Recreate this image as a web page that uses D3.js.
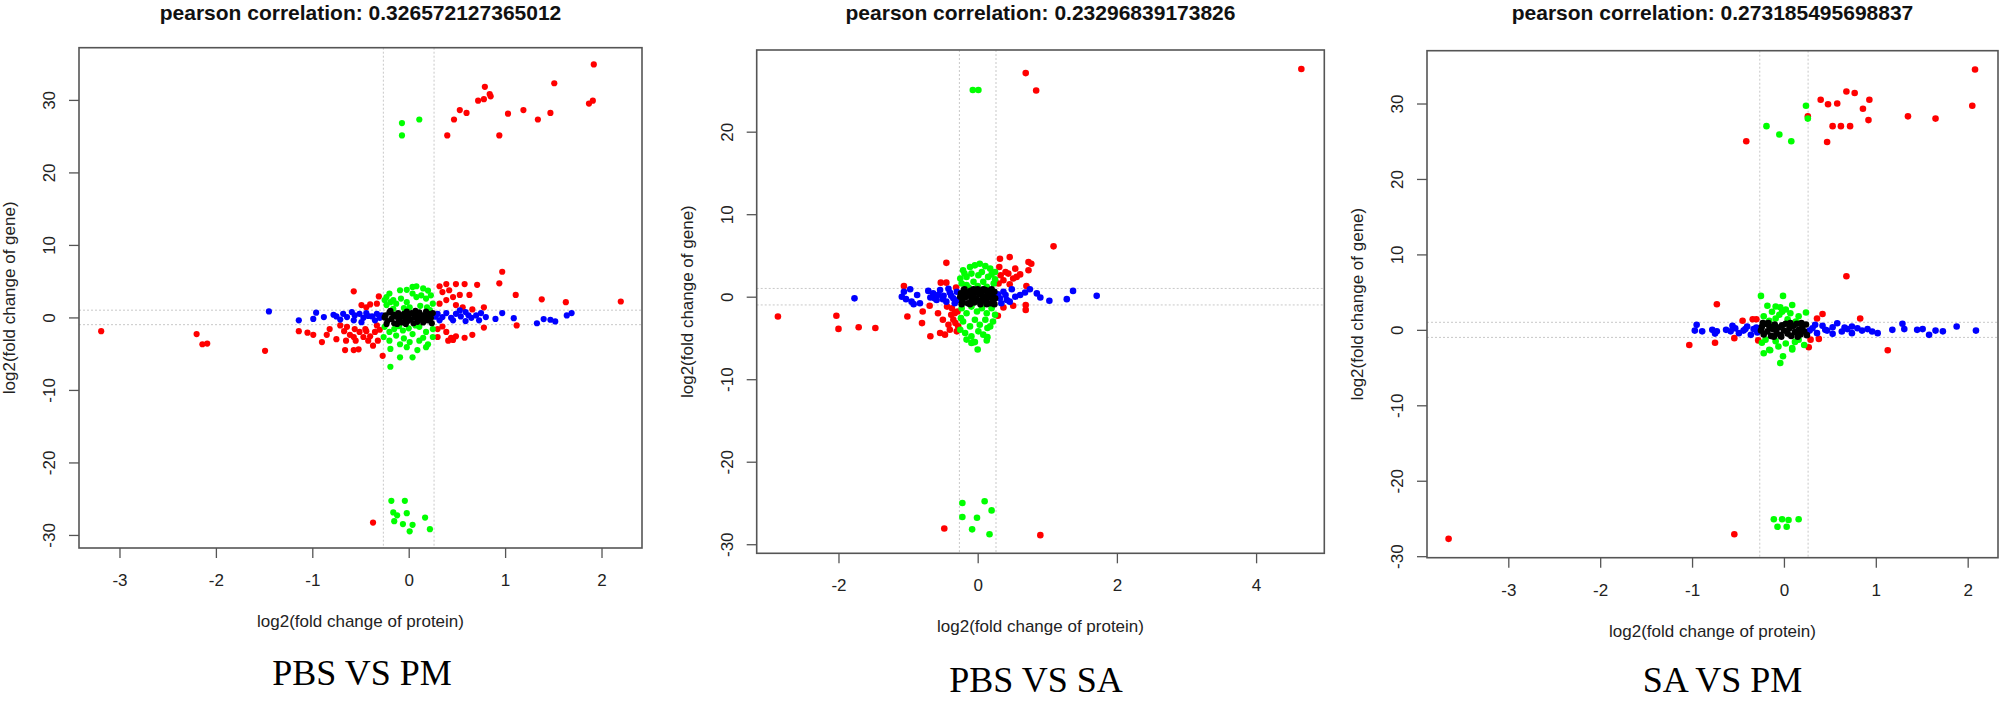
<!DOCTYPE html>
<html>
<head>
<meta charset="utf-8">
<script src="https://cdn.jsdelivr.net/npm/d3@7.9.0/dist/d3.min.js"></script>
<style>
  body { margin: 0; background: #fff; }
  svg { display: block; }
  .tick text { font-family: "Liberation Sans", Arial, sans-serif; font-size: 17px; fill: #222; }
  .tick line { stroke: #555; stroke-width: 1.3; }
</style>
</head>
<body>
<svg id="chart" width="2000" height="701"></svg>
<script>
// thresholds used for the dotted guide lines (log2 1.2 and log2 2)
const protCut = [-0.263, 0.263];
const geneCut = [-1, 1];

const titles = [
  'pearson correlation: 0.326572127365012',
  'pearson correlation: 0.23296839173826',
  'pearson correlation: 0.273185495698837'
];
const captions = ['PBS VS PM', 'PBS VS SA', 'SA VS PM'];

const xTicksPm = [-3, -2, -1, 0, 1, 2];
const xTicksSa = [-2, 0, 2, 4];
const yTicksPm = [-30, -20, -10, 0, 10, 20, 30];
const yTicksSa = [-30, -20, -10, 0, 10, 20];

// ---- PBS VS PM ----
const pbsPmRed = [
  [-3.19, -1.9], [-2.20, -2.3], [-2.14, -3.7], [-2.09, -3.6], [-1.49, -4.6],
  [-1.14, -1.9], [-1.05, -2.1], [-0.99, -2.4], [-0.90, -3.4], [-0.85, -2.4], [-0.82, -1.6],
  [-0.75, -3.0], [-0.71, -1.1], [-0.67, -1.9], [-0.65, -3.2], [-0.64, -1.3], [-0.61, -2.4],
  [-0.57, -2.7], [-0.56, -1.6], [-0.55, -3.2], [-0.66, -4.5], [-0.57, -4.5], [-0.52, -4.4],
  [-0.51, -2.0], [-0.47, -2.7], [-0.45, -1.6], [-0.44, -1.9], [-0.42, -3.2], [-0.40, -2.6],
  [-0.37, -3.9], [-0.35, -2.0], [-0.33, -1.1], [-0.32, -3.2], [-0.30, -1.7], [-0.27, -5.3],
  [-0.57, 3.6], [-0.49, 1.7], [-0.44, 1.4], [-0.40, 1.8], [-0.31, 2.9], [-0.33, 1.9],
  [0.32, 4.3], [0.39, 4.6], [0.49, 4.6], [0.58, 4.6], [0.71, 4.5], [0.35, 3.5], [0.42, 3.75],
  [0.46, 2.8], [0.53, 3.1], [0.63, 3.1], [0.78, 1.4], [0.39, 2.4], [0.32, 1.9], [0.49, 1.7],
  [0.56, 1.4], [0.66, 1.1], [0.94, 4.7], [0.97, 6.3], [1.11, 3.1], [1.38, 2.5], [1.63, 2.1],
  [2.20, 2.2],
  [0.30, -1.6], [0.35, -1.25], [0.39, -2.0], [0.44, -2.8], [0.49, -2.6], [0.58, -2.8],
  [0.66, -2.4], [0.78, -1.4], [1.12, -1.1], [0.30, -2.7], [0.41, -3.2], [0.46, -3.1],
  [0.40, 25.1], [0.47, 27.3], [0.53, 28.6], [0.60, 28.2], [0.72, 29.9], [0.78, 30.1],
  [0.79, 31.8], [0.84, 30.8], [0.85, 30.5], [0.94, 25.1], [1.03, 28.1], [1.19, 28.6],
  [1.34, 27.3], [1.47, 28.2], [1.51, 32.3], [1.87, 29.5], [1.91, 29.9], [1.92, 34.9],
  [-0.37, -28.3]
];
const pbsPmBlue = [
  [-1.45, 0.83], [-1.14, -0.4], [-0.99, -0.2], [-0.96, 0.65], [-0.88, 0.05], [-0.78, 0.37],
  [-0.75, 0.14], [-0.68, 0.5], [-0.64, 0.05], [-0.59, 0.74], [-0.56, 0.28], [-0.51, 0.5],
  [-0.47, -0.05], [-0.44, 0.6], [-0.38, 0.14], [-0.33, 0.5], [-0.30, -0.05], [-0.71, -0.3],
  [-0.57, -0.4], [-0.35, -0.4], [-0.49, -0.65], [-0.42, 0.2], [-0.28, 0.3],
  [0.30, 0.5], [0.35, 0.05], [0.39, 0.6], [0.44, -0.05], [0.49, 0.5], [0.54, 0.14],
  [0.59, 0.74], [0.65, -0.05], [0.70, 0.28], [0.75, 0.6], [0.80, 0.05], [0.90, -0.2],
  [0.97, 0.6], [1.09, -0.1], [1.33, -0.8], [1.40, -0.23], [1.47, -0.32], [1.52, -0.55],
  [1.64, 0.28], [1.69, 0.6], [0.32, -0.4], [0.46, -0.4], [0.59, -0.5], [0.73, -0.4],
  [0.53, 0.97], [0.28, 0.1], [0.62, 0.3]
];
const pbsPmGreen = [
  [-0.23, 2.8], [-0.16, 2.4], [-0.09, 3.75], [-0.02, 3.8], [0.04, 4.2], [0.08, 4.3],
  [0.15, 4.0], [0.20, 3.7], [-0.23, 1.7], [-0.13, 1.9], [-0.02, 2.1], [0.08, 2.8],
  [0.18, 2.6], [0.25, 1.9], [-0.20, 3.3], [0.04, 3.3], [0.13, 3.05], [0.01, 1.4],
  [-0.16, 1.2], [0.22, 1.0], [-0.08, 2.6], [-0.25, 2.4], [0.23, 3.05], [-0.05, 1.3],
  [0.12, 1.6], [-0.19, 2.1], [0.19, 1.4],
  [-0.25, -1.3], [-0.20, -2.0], [-0.13, -2.5], [-0.06, -1.8], [0.04, -2.3], [0.11, -1.3],
  [0.18, -2.0], [0.25, -2.7], [-0.20, -3.2], [-0.09, -3.7], [0.01, -3.4], [0.11, -3.2],
  [0.20, -3.7], [-0.19, -4.35], [-0.09, -5.5], [0.04, -5.5], [0.09, -4.5], [0.18, -4.1],
  [-0.19, -6.8], [-0.02, -4.1], [-0.26, -2.7], [0.25, -1.6], [-0.10, -1.2], [0.00, -1.5],
  [0.15, -2.8], [-0.15, -1.6], [-0.05, -2.9], [0.07, -1.1],
  [-0.07, 26.8], [-0.07, 25.1], [0.11, 27.3],
  [-0.18, -25.3], [-0.04, -25.3], [-0.16, -26.9], [-0.12, -27.3], [-0.15, -28.1],
  [-0.02, -27.0], [-0.06, -28.5], [0.04, -28.6], [0.01, -29.5], [0.17, -27.6], [0.22, -29.2]
];
const pbsPmBlack = [
  [-0.24, 0.3], [-0.22, -0.5], [-0.20, 0.7], [-0.18, -0.2], [-0.16, 0.4], [-0.15, -0.8],
  [-0.13, 0.1], [-0.11, 0.6], [-0.10, -0.4], [-0.08, 0.2], [-0.07, -0.7], [-0.05, 0.5],
  [-0.04, -0.1], [-0.02, 0.8], [-0.01, -0.5], [0.00, 0.2], [0.02, -0.3], [0.03, 0.6],
  [0.05, -0.8], [0.06, 0.0], [0.08, 0.4], [0.09, -0.6], [0.11, 0.7], [0.12, -0.2],
  [0.14, 0.3], [0.15, -0.7], [0.17, 0.1], [0.18, 0.8], [0.20, -0.4], [0.21, 0.5],
  [0.23, -0.1], [0.24, -0.8], [-0.23, -0.9], [-0.19, 0.9], [-0.12, -0.9], [0.07, 0.9],
  [0.16, -0.5], [-0.03, -0.9], [0.22, 0.2], [-0.25, 0.0], [0.25, 0.6], [0.10, 0.0]
];

// ---- PBS VS SA ----
const pbsSaRed = [
  [-2.87, -2.4], [-2.03, -2.3], [-2.00, -3.9], [-1.71, -3.7], [-1.47, -3.8], [-1.06, 1.3],
  [-1.01, -2.4], [-0.80, -3.2], [-0.79, -1.8], [-0.68, -4.8], [-0.69, -1.1], [-0.57, -2.0],
  [-0.54, -4.4], [-0.47, -4.6], [-0.45, 4.1], [-0.53, 1.7], [-0.45, 1.7], [-0.50, -2.8],
  [-0.42, -3.4], [-0.40, -4.0], [-0.35, -2.8], [-0.33, -2.0], [-0.30, -4.2], [-0.37, -1.4],
  [-0.28, -3.6], [-0.31, 1.1], [-0.38, -2.2], [-0.32, -3.2], [-0.29, -1.8], [-0.44, -1.2],
  [0.32, 4.6], [0.46, 4.8], [0.31, 3.6], [0.44, 2.8], [0.54, 3.4], [0.61, 2.7], [0.73, 4.2],
  [0.77, 4.0], [0.73, 3.2], [0.37, 2.0], [0.51, 2.2], [0.30, 1.6], [0.70, 1.3], [1.09, 6.1],
  [0.46, 1.5], [0.56, 2.4], [0.40, 3.0], [0.33, 2.6],
  [0.37, -1.3], [0.51, -1.1], [0.69, -1.0], [0.69, -1.6], [0.29, -2.3],
  [0.69, 27.1], [0.84, 25.0], [4.65, 27.6],
  [-0.48, -28.1], [0.90, -28.9]
];
const pbsSaBlue = [
  [-1.77, -0.2], [-1.09, 0.0], [-1.06, 0.6], [-1.03, -0.3], [-0.97, 0.9], [-0.95, -0.6],
  [-0.92, -0.9], [-0.87, 0.2], [-0.83, -0.8], [-0.71, 0.7], [-0.68, -0.1], [-0.64, 0.4],
  [-0.59, -0.4], [-0.54, 0.8], [-0.49, 0.1], [-0.45, -0.6], [-0.40, 0.5], [-0.35, -0.2],
  [-0.30, 0.6], [-0.33, -0.8], [-0.42, 0.95], [-0.57, 0.2], [-0.38, 0.1], [-0.28, -0.4],
  [-0.50, -0.3], [-0.62, -0.2],
  [0.32, -0.2], [0.37, 0.6], [0.42, -0.4], [0.49, 0.9], [0.54, 0.0], [0.61, 0.2],
  [0.68, 0.5], [0.75, 0.9], [0.85, 0.4], [0.90, -0.1], [1.03, -0.5], [1.28, -0.3],
  [1.37, 0.7], [1.71, 0.1], [0.34, -0.8], [0.46, -0.6], [0.29, 0.3], [0.40, 0.2]
];
const pbsSaGreen = [
  [-0.21, 3.2], [-0.16, 2.4], [-0.11, 3.6], [-0.04, 3.8], [0.03, 4.0], [0.11, 3.7],
  [0.18, 3.4], [0.25, 3.0], [-0.23, 1.6], [-0.16, 1.4], [-0.06, 1.8], [0.01, 2.6],
  [0.08, 1.8], [0.15, 2.4], [0.23, 1.6], [-0.09, 2.8], [0.06, 3.0], [-0.25, 2.2],
  [0.25, 2.1], [0.13, 1.2], [-0.13, 1.1], [0.00, 1.3], [0.20, 2.7], [-0.19, 2.8],
  [-0.23, -1.4], [-0.16, -2.0], [-0.09, -1.2], [-0.01, -1.8], [0.06, -1.4], [0.13, -2.0],
  [0.20, -1.4], [0.25, -2.2], [-0.21, -3.0], [-0.11, -3.6], [-0.04, -2.8], [0.03, -3.4],
  [0.11, -2.8], [0.18, -3.6], [-0.18, -4.4], [-0.09, -4.8], [0.01, -4.2], [0.08, -4.6],
  [0.14, -3.8], [0.14, -4.9], [-0.06, -5.5], [0.00, -6.4], [-0.25, -4.0], [-0.16, -5.2],
  [-0.09, -5.6], [-0.04, -5.5], [0.13, -5.3], [0.22, -3.0], [-0.24, -2.6],
  [-0.07, 25.05], [0.01, 25.05],
  [-0.22, -25.0], [0.10, -24.8], [0.20, -25.9], [-0.22, -26.7], [-0.01, -26.8],
  [-0.08, -28.2], [0.17, -28.8]
];
const pbsSaBlack = [
  [-0.24, 0.4], [-0.22, -0.6], [-0.20, 0.8], [-0.18, -0.1], [-0.16, 0.5], [-0.14, -0.8],
  [-0.12, 0.2], [-0.10, 0.7], [-0.09, -0.4], [-0.07, 0.1], [-0.05, -0.7], [-0.04, 0.5],
  [-0.02, -0.2], [0.00, 0.9], [0.01, -0.5], [0.03, 0.3], [0.04, -0.9], [0.06, 0.6],
  [0.07, -0.3], [0.09, 0.0], [0.11, 0.8], [0.12, -0.6], [0.14, 0.4], [0.16, -0.1],
  [0.17, 0.7], [0.19, -0.8], [0.21, 0.2], [0.22, -0.4], [0.24, 0.6], [0.25, -0.2],
  [-0.23, -0.9], [-0.19, 0.9], [-0.11, -0.9], [0.08, 0.9], [-0.25, 0.0], [0.20, 0.9],
  [0.24, -0.9], [-0.06, 0.9], [0.13, -0.9], [-0.15, 0.1]
];

// ---- SA VS PM ----
const saPmRed = [
  [0.68, 7.1], [-0.73, 3.4], [-1.03, -2.0], [-0.75, -1.7], [-0.54, -1.1], [-0.45, 1.2],
  [-0.34, 1.4], [-0.30, 1.4], [-0.28, -1.4], [0.29, -1.3], [0.38, -1.2], [0.27, -2.3],
  [0.36, 1.5], [0.42, 2.1], [0.83, 1.5], [1.13, -2.7],
  [-0.41, 25.0], [0.26, 28.3], [0.40, 30.5], [0.48, 29.9], [0.58, 30.0], [0.53, 27.0],
  [0.62, 27.0], [0.47, 24.9], [0.68, 31.6], [0.77, 31.4], [0.86, 29.3], [0.93, 30.5],
  [0.92, 27.8], [0.72, 27.0], [1.35, 28.3], [1.65, 28.0], [2.05, 29.7], [2.08, 34.5],
  [-0.54, -27.1], [-3.65, -27.7]
];
const saPmBlue = [
  [-0.95, 0.66], [-0.97, -0.1], [-0.89, -0.2], [-0.78, 0.0], [-0.75, -0.5], [-0.73, -0.2],
  [-0.63, 0.0], [-0.58, -0.2], [-0.53, 0.2], [-0.49, -0.44], [-0.44, -0.1], [-0.40, 0.44],
  [-0.36, -0.66], [-0.33, 0.1], [-0.29, -0.35], [-0.56, 0.53], [-0.30, 0.3], [-0.42, 0.1],
  [0.31, 0.22], [0.36, -0.44], [0.42, 0.53], [0.47, -0.1], [0.53, 0.35], [0.58, 0.88],
  [0.63, -0.22], [0.69, 0.1], [0.74, -0.44], [0.80, 0.22], [0.85, -0.1], [0.91, 0.1],
  [0.96, -0.22], [1.02, -0.44], [1.18, 0.0], [1.29, 0.8], [1.31, 0.1], [1.45, 0.0],
  [1.51, 0.1], [1.58, -0.66], [1.65, -0.1], [1.73, -0.2], [1.88, 0.44], [2.09, -0.1],
  [0.34, 0.66], [0.53, -0.53], [0.74, 0.44], [0.28, -0.1], [0.45, 0.0], [0.66, 0.3]
];
const saPmGreen = [
  [-0.25, 4.5], [-0.01, 4.5], [0.09, 3.3], [-0.18, 3.2], [-0.09, 3.1], [-0.04, 3.0],
  [0.02, 2.7], [-0.13, 2.4], [-0.02, 2.4], [0.07, 2.2], [0.16, 1.8], [0.24, 2.3],
  [-0.22, 1.8], [-0.09, 1.5], [0.04, 1.4], [-0.16, 1.2], [0.13, 1.1], [-0.05, 2.0],
  [-0.22, -3.1], [-0.16, -2.65], [-0.01, -3.5], [-0.04, -4.4], [0.09, -2.4], [-0.09, -1.5],
  [0.02, -1.8], [0.16, -1.3], [-0.20, -1.3], [0.22, -2.0], [-0.15, -2.7], [-0.24, -1.7],
  [0.09, -2.6], [-0.06, -2.2], [0.12, -1.6],
  [-0.19, 27.0], [-0.05, 25.9], [0.08, 25.0], [0.24, 29.7], [0.26, 28.0],
  [-0.11, -25.1], [-0.02, -25.1], [0.05, -25.2], [0.16, -25.1], [-0.07, -26.1], [0.03, -26.1]
];
const saPmBlack = [
  [-0.24, 0.4], [-0.22, -0.6], [-0.20, 0.8], [-0.18, -0.2], [-0.16, 0.5], [-0.14, -0.8],
  [-0.12, 0.1], [-0.10, 0.7], [-0.08, -0.4], [-0.06, 0.3], [-0.04, -0.7], [-0.02, 0.6],
  [0.00, -0.1], [0.02, 0.8], [0.04, -0.5], [0.06, 0.2], [0.08, -0.8], [0.10, 0.5],
  [0.12, -0.3], [0.14, 0.8], [0.16, 0.0], [0.18, -0.6], [0.20, 0.4], [0.22, -0.2],
  [0.24, 0.7], [0.25, -0.7], [-0.25, -0.1], [-0.23, 0.9], [-0.11, -0.9], [0.07, 0.9],
  [0.19, 0.9], [-0.03, -0.9], [0.15, -0.9], [-0.17, 0.9]
];

const panels = [
  {
    title: titles[0], caption: captions[0],
    box: { left: 79, top: 47.7, right: 642, bottom: 548 },
    xDomain: [-3.42, 2.42], yDomain: [-31.8, 37.2],
    xTicks: xTicksPm, yTicks: yTicksPm,
    red: pbsPmRed, blue: pbsPmBlue, green: pbsPmGreen, black: pbsPmBlack,
    capX: 362, capY: 685, r: 3.1
  },
  {
    title: titles[1], caption: captions[1],
    box: { left: 756.7, top: 50, right: 1324.3, bottom: 553.3 },
    xDomain: [-3.175, 4.98], yDomain: [-31.1, 29.9],
    xTicks: xTicksSa, yTicks: yTicksSa,
    red: pbsSaRed, blue: pbsSaBlue, green: pbsSaGreen, black: pbsSaBlack,
    capX: 1036, capY: 691.5, r: 3.3
  },
  {
    title: titles[2], caption: captions[2],
    box: { left: 1427, top: 50.7, right: 1998, bottom: 557.7 },
    xDomain: [-3.885, 2.33], yDomain: [-30.2, 37.0],
    xTicks: xTicksPm, yTicks: yTicksPm,
    red: saPmRed, blue: saPmBlue, green: saPmGreen, black: saPmBlack,
    capX: 1722.5, capY: 691.5, r: 3.3
  }
];

const svg = d3.select('#chart');
svg.append('rect').attr('width', 2000).attr('height', 701).attr('fill', '#fff');

function drawPanel(p) {
  const b = p.box;
  const x = d3.scaleLinear().domain(p.xDomain).range([b.left, b.right]);
  const y = d3.scaleLinear().domain(p.yDomain).range([b.bottom, b.top]);
  const g = svg.append('g');

  // dotted guide lines
  g.selectAll('line.vguide')
    .data(protCut)
    .join('line')
    .attr('class', 'vguide')
    .attr('x1', d => x(d)).attr('x2', d => x(d))
    .attr('y1', b.top).attr('y2', b.bottom);
  g.selectAll('line.hguide')
    .data(geneCut)
    .join('line')
    .attr('class', 'hguide')
    .attr('x1', b.left).attr('x2', b.right)
    .attr('y1', d => y(d)).attr('y2', d => y(d));
  g.selectAll('line.vguide, line.hguide')
    .attr('stroke', '#c8c8c8')
    .attr('stroke-width', 1)
    .attr('stroke-dasharray', '2,2');

  // points, same stacking as the source plot
  const layers = [['red', '#ff0000'], ['blue', '#0000ff'], ['green', '#00ff00'], ['black', '#000000']];
  layers.forEach(([key, color]) => {
    g.append('g')
      .selectAll('circle')
      .data(p[key])
      .join('circle')
      .attr('cx', d => x(d[0]))
      .attr('cy', d => y(d[1]))
      .attr('r', p.r)
      .attr('fill', color);
  });

  // frame
  g.append('rect')
    .attr('x', b.left).attr('y', b.top)
    .attr('width', b.right - b.left).attr('height', b.bottom - b.top)
    .attr('fill', 'none')
    .attr('stroke', '#555')
    .attr('stroke-width', 1.6);

  // axes
  g.append('g')
    .attr('transform', `translate(0,${b.bottom})`)
    .call(d3.axisBottom(x).tickValues(p.xTicks).tickSize(10).tickPadding(16).tickFormat(d => String(d)))
    .call(a => a.select('.domain').remove());

  g.append('g')
    .attr('transform', `translate(${b.left},0)`)
    .call(d3.axisLeft(y).tickValues(p.yTicks).tickSize(10).tickFormat(d => String(d)))
    .call(a => a.select('.domain').remove())
    .call(a => a.selectAll('.tick text')
      .attr('x', 0).attr('dy', 0)
      .attr('text-anchor', 'middle')
      .attr('transform', 'translate(-24,0) rotate(-90)'));

  const cx = (b.left + b.right) / 2;
  const cy = (b.top + b.bottom) / 2;

  g.append('text')
    .attr('x', cx).attr('y', 20)
    .attr('text-anchor', 'middle')
    .style('font-family', '"Liberation Sans", Arial, sans-serif')
    .style('font-weight', 'bold')
    .style('font-size', '21px')
    .attr('fill', '#111')
    .text(p.title);

  g.append('text')
    .attr('x', cx).attr('y', b.bottom + 79)
    .attr('text-anchor', 'middle')
    .style('font-family', '"Liberation Sans", Arial, sans-serif')
    .style('font-size', '17px')
    .attr('fill', '#222')
    .text('log2(fold change of protein)');

  g.append('text')
    .attr('transform', `translate(${b.left - 64},${cy}) rotate(-90)`)
    .attr('text-anchor', 'middle')
    .style('font-family', '"Liberation Sans", Arial, sans-serif')
    .style('font-size', '17px')
    .attr('fill', '#222')
    .text('log2(fold change of gene)');

  g.append('text')
    .attr('x', p.capX).attr('y', p.capY)
    .attr('text-anchor', 'middle')
    .style('font-family', '"Liberation Serif", "Times New Roman", serif')
    .style('font-size', '36px')
    .attr('fill', '#000')
    .text(p.caption);
}

panels.forEach(drawPanel);
</script>
</body>
</html>
